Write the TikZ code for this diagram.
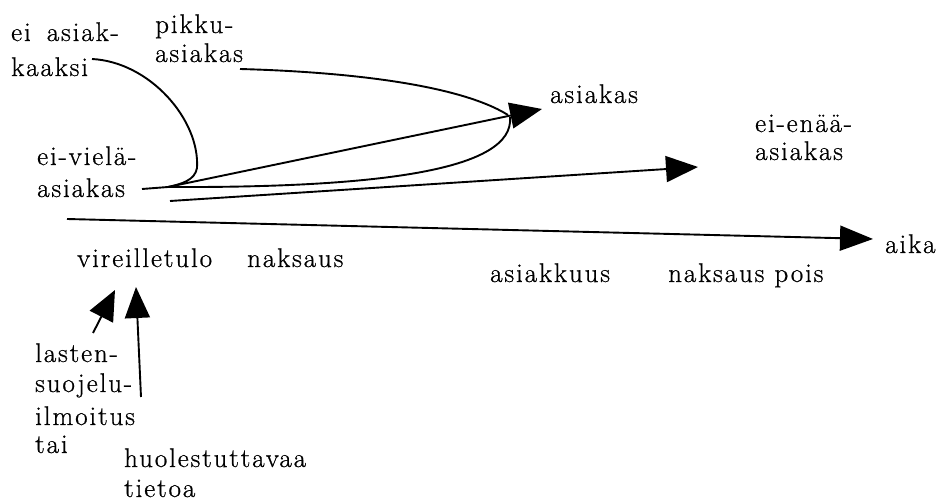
\documentclass[tikz,border=0pt]{standalone}
\usepackage{fontspec}
\setmainfont{Latin Modern Roman}[LetterSpace=7, FakeBold=0.7]
\usetikzlibrary{arrows.meta}
\begin{document}
\begin{tikzpicture}[x=1pt,y=-1pt,
  lbl/.style={anchor=base west, inner sep=0pt, font=\fontsize{27}{27}\selectfont},
  conn/.style={line width=1.9pt, black},
  bighead/.style={-{Triangle[length=32pt,width=26pt]}},
]
\useasboundingbox (0,0) rectangle (946,502);
% texts
\node[lbl] (eia1) at (11,41) {ei\hspace{6pt} asiak-};
\node[lbl] (eia2) at (11,76) {kaaksi};
\node[lbl] (pik1) at (155,33) {pikku-};
\node[lbl] (pik2) at (155,62) {asiakas};
\node[lbl] (eiv1) at (37,165) {ei-vielä-};
\node[lbl] (eiv2) at (37,197) {asiakas};
\node[lbl] (asi) at (550,103) {asiakas};
\node[lbl] (een1) at (755,132) {ei-enää-};
\node[lbl] (een2) at (755,160) {asiakas};
\node[lbl] (aika) at (885,253) {aika};
\node[lbl] (vir) at (77,267) {vireilletulo};
\node[lbl] (nak) at (247,267) {naksaus};
\node[lbl] (asik) at (490,282) {asiakkuus};
\node[lbl] (nakp) at (668,282) {naksaus pois};
\node[lbl] (las1) at (35,362) {lasten-};
\node[lbl] (las2) at (35,392) {suojelu-};
\node[lbl] (las3) at (35,425) {ilmoitus};
\node[lbl] (las4) at (35,453) {tai};
\node[lbl] (huo1) at (124,467) {huolestuttavaa};
\node[lbl] (huo2) at (124,497) {tietoa};
% coordinates
\coordinate (P) at (168,187);
\coordinate (dashS) at (142,189);
\coordinate (kS) at (92,59);
\coordinate (kB) at (197,168);
\coordinate (pS) at (240,69);
\coordinate (T1) at (542,109);
\coordinate (T1b) at (508,115);
\coordinate (T1c) at (510,117);
\coordinate (lowS) at (170,201);
\coordinate (T2) at (698,167);
\coordinate (axS) at (67,219);
\coordinate (axE) at (873,239);
\coordinate (aS) at (93,333);
\coordinate (aE) at (115,290);
\coordinate (bS) at (141,397);
\coordinate (bE) at (136,287);
% connectors
\draw[conn] (dashS) -- (P);
\draw[conn] (kS) .. controls (150,62) and (200,120) .. (kB) .. controls (195,180) and (182,184) .. (P);
\draw[conn, bighead] (P) -- (T1);
\draw[conn] (pS) .. controls (350,72) and (460,85) .. (T1b);
\draw[conn] (P) .. controls (380,188) and (515,170) .. (T1c);
\draw[conn, bighead] (lowS) -- (T2);
\draw[conn, -{Triangle[length=33pt,width=25pt]}] (axS) -- (axE);
\draw[conn, -{Triangle[length=30pt,width=26pt]}] (aS) -- (aE);
\draw[conn, -{Triangle[length=31pt,width=25pt]}] (bS) -- (bE);
\end{tikzpicture}
\end{document}
